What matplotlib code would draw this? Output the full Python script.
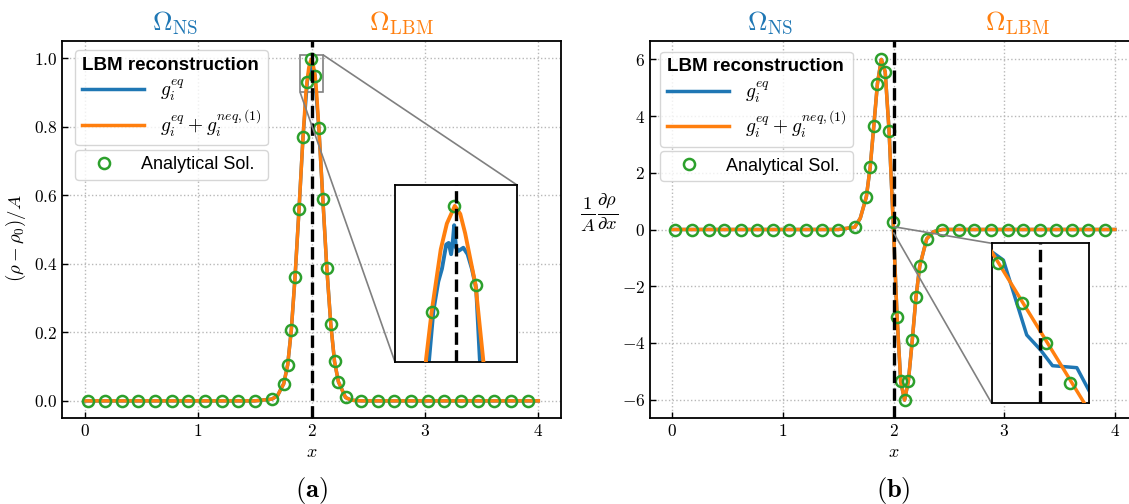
import matplotlib
matplotlib.use("Agg")
import matplotlib.pyplot as plt
from matplotlib.ticker import FuncFormatter
from mpl_toolkits.axes_grid1.inset_locator import mark_inset

plt.rcParams['mathtext.fontset'] = 'cm'
plt.rcParams['font.family'] = ['Liberation Sans', 'DejaVu Sans']

# ---- data ----
# analytical solution markers (same x grid for both panels)
ana_x = [0.03, 0.18, 0.33, 0.47, 0.62, 0.77, 0.91, 1.06, 1.21, 1.35, 1.50, 1.65,
         1.755, 1.79, 1.822, 1.855, 1.89, 1.925, 1.96, 1.997, 2.032, 2.065, 2.10,
         2.135, 2.17, 2.203, 2.237, 2.30, 2.44, 2.59, 2.73, 2.88, 3.03, 3.17,
         3.32, 3.47, 3.61, 3.76, 3.91]
ana_rho = [0, 0, 0, 0, 0, 0, 0, 0, 0, 0, 0, 0.005,
           0.05, 0.105, 0.207, 0.362, 0.559, 0.769, 0.931, 0.997, 0.948, 0.795, 0.589,
           0.387, 0.224, 0.115, 0.056, 0.01, 0, 0, 0, 0, 0, 0,
           0, 0, 0, 0, 0]
ana_drho = [0, 0, 0, 0, 0, 0, 0, 0, 0, 0, 0, 0.08,
            1.16, 2.22, 3.65, 5.15, 6.0, 5.56, 3.48, 0.26, -3.07, -5.36, -6.02,
            -5.33, -3.89, -2.39, -1.29, -0.33, 0, 0, 0, 0, 0, 0,
            0, 0, 0, 0, 0]

# (a) density, g_eq + g_neq reconstruction
rho_x_full = [0.0, 1.50, 1.65, 1.70, 1.755, 1.79, 1.822, 1.855, 1.89, 1.925, 1.951,
              1.96, 1.975, 1.985, 1.998, 2.007, 2.015, 2.032, 2.045, 2.065, 2.10,
              2.135, 2.17, 2.203, 2.237, 2.30, 2.35, 2.44, 4.0]
rho_full = [0, 0, 0.005, 0.015, 0.05, 0.105, 0.207, 0.362, 0.559, 0.769, 0.902,
            0.931, 0.970, 0.986, 0.997, 0.992, 0.980, 0.948, 0.90, 0.795, 0.589,
            0.387, 0.224, 0.115, 0.056, 0.01, 0.002, 0, 0]
# (a) density, g_eq only
rho_x_eq = [0.0, 1.50, 1.65, 1.70, 1.755, 1.79, 1.822, 1.855, 1.89, 1.925, 1.956,
            1.963, 1.971, 1.977, 1.984, 1.988, 1.992, 1.995, 1.997, 2.0, 2.004,
            2.012, 2.019, 2.026, 2.033, 2.039, 2.065, 2.10, 2.135, 2.17, 2.203,
            2.237, 2.30, 2.35, 2.44, 4.0]
rho_eq = [0, 0, 0.005, 0.015, 0.05, 0.105, 0.207, 0.362, 0.559, 0.769, 0.902,
          0.932, 0.950, 0.958, 0.973, 0.974, 0.967, 0.976, 0.985, 0.971, 0.969,
          0.971, 0.967, 0.958, 0.946, 0.902, 0.795, 0.589, 0.387, 0.224, 0.115,
          0.056, 0.01, 0.002, 0, 0]

# (b) gradient, both reconstructions coincide at this scale
drho_x = [0.0, 1.50, 1.65, 1.70, 1.755, 1.79, 1.822, 1.855, 1.89, 1.925, 1.96,
          1.997, 2.032, 2.065, 2.10, 2.135, 2.17, 2.203, 2.237, 2.30, 2.36, 2.44, 4.0]
drho = [0, 0, 0.08, 0.4, 1.16, 2.22, 3.65, 5.15, 6.0, 5.56, 3.48,
        0.26, -3.07, -5.36, -6.02, -5.33, -3.89, -2.39, -1.29, -0.33, -0.08, 0, 0]

# (b) zoomed window around x = 2
zoom_ana_x = [1.99912, 1.99962, 2.00012, 2.00061]
zoom_ana = [0.075, 0.025, -0.025, -0.074]
zoom_full_x = [1.9985, 2.0015]
zoom_full = [0.139, -0.159]
zoom_eq_x = [1.9985, 1.999, 1.99924, 1.99972, 2.0, 2.00025, 2.00075, 2.00099, 2.0015]
zoom_eq = [0.12, 0.0895, 0.079, -0.0146, -0.033, -0.053, -0.0555, -0.083, -0.14]

C_BLUE = '#1f77b4'
C_ORANGE = '#ff7f0e'
C_GREEN = '#2ca02c'

W, H = 1129, 504
fig = plt.figure(figsize=(W / 100, H / 100), dpi=100)


def px_axes(x0, y0, x1, y1):
    return fig.add_axes([x0 / W, 1 - y1 / H, (x1 - x0) / W, (y1 - y0) / H])


ax1 = px_axes(62, 41, 561, 418)
ax2 = px_axes(650, 41, 1137, 418)
ins1 = px_axes(395, 185, 517, 362)
ins2 = px_axes(991.7, 243.3, 1089, 403.3)

mk = dict(ls='none', marker='o', ms=8, mfc='none', mec=C_GREEN, mew=1.8, zorder=4)

# panel (a)
l_eq, = ax1.plot(rho_x_eq, rho_eq, color=C_BLUE, lw=2.5, zorder=2)
l_full, = ax1.plot(rho_x_full, rho_full, color=C_ORANGE, lw=2.5, zorder=3)
l_ana, = ax1.plot(ana_x, ana_rho, **mk)
ax1.axvline(2.0, color='k', ls='--', lw=2.4, zorder=5)
ax1.set_xlim(-0.2, 4.2)
ax1.set_ylim(-0.05, 1.05)
ax1.set_xticks([0, 1, 2, 3, 4])
ax1.set_yticks([0.0, 0.2, 0.4, 0.6, 0.8, 1.0])
ax1.yaxis.set_major_formatter(FuncFormatter(lambda v, p: '$%.1f$' % v))
ax1.set_ylabel(r'$(\rho-\rho_0)/A$', fontsize=13.5)
ax1.yaxis.set_label_coords(-0.068, 0.476)

# panel (b)
ax2.plot(drho_x, drho, color=C_BLUE, lw=2.5, zorder=2)
ax2.plot(drho_x, drho, color=C_ORANGE, lw=2.5, zorder=3)
ax2.plot(ana_x, ana_drho, **mk)
ax2.axvline(2.0, color='k', ls='--', lw=2.4, zorder=5)
ax2.set_xlim(-0.2, 4.2)
ax2.set_ylim(-6.65, 6.65)
ax2.set_xticks([0, 1, 2, 3, 4])
ax2.set_yticks([-6, -4, -2, 0, 2, 4, 6])
ax2.yaxis.set_major_formatter(FuncFormatter(lambda v, p: '$%d$' % v))

for ax in (ax1, ax2):
    ax.xaxis.set_major_formatter(FuncFormatter(lambda v, p: '$%d$' % v))
    ax.tick_params(direction='in', length=4, width=1, labelsize=12.5)
    ax.grid(True, ls=':', color='#b8b8b8', lw=1)
    ax.set_xlabel(r'$x$', fontsize=13)
    for s in ax.spines.values():
        s.set_linewidth(1.3)

# insets
ins1.plot(rho_x_eq, rho_eq, color=C_BLUE, lw=2.8, zorder=2)
ins1.plot(rho_x_full, rho_full, color=C_ORANGE, lw=2.8, zorder=3)
ins1.plot(ana_x, ana_rho, **mk)
ins1.axvline(2.0, color='k', ls='--', lw=2.4, zorder=5)
ins1.set_xlim(1.9, 2.1)
ins1.set_ylim(0.9, 1.01)

ins2.plot(zoom_eq_x, zoom_eq, color=C_BLUE, lw=2.5, zorder=2)
ins2.plot(zoom_full_x, zoom_full, color=C_ORANGE, lw=2.5, zorder=3)
ins2.plot(zoom_ana_x, zoom_ana, **mk)
ins2.axvline(2.0, color='k', ls='--', lw=2.4, zorder=5)
ins2.set_xlim(1.999, 2.001)
ins2.set_ylim(-0.1, 0.1)

for ax in (ins1, ins2):
    ax.set_xticks([])
    ax.set_yticks([])
    for s in ax.spines.values():
        s.set_linewidth(1.3)

mark_inset(ax1, ins1, loc1=1, loc2=3, fc='none', ec='0.5', lw=1.2)
mark_inset(ax2, ins2, loc1=2, loc2=3, fc='none', ec='0.5', lw=1.2)

# legends
labels = [r'$g_i^{eq}$', r'$g_i^{eq}+g_i^{neq,(1)}$']
for ax, x0, y0 in ((ax1, 0.026, 0.976), (ax2, 0.0205, 0.972)):
    leg1 = ax.legend([l_eq, l_full], labels, title='LBM reconstruction',
                     title_fontproperties={'weight': 'bold', 'size': 13.5},
                     loc='upper left', bbox_to_anchor=(x0, y0), borderaxespad=0,
                     fontsize=14, alignment='left', handlelength=3.2,
                     labelspacing=0.2, borderpad=0.35)
    ax.add_artist(leg1)
    fig.canvas.draw()
    bb = leg1.get_window_extent().transformed(ax.transAxes.inverted())
    ax.legend([l_ana], ['Analytical Sol.'], loc='upper left',
              bbox_to_anchor=(bb.x0, bb.y0 - 0.012, bb.width, 0), mode='expand',
              borderaxespad=0, fontsize=13, handlelength=2.5, borderpad=0.35)

# domain labels and panel tags
ty = 1 - 23 / H
fig.text(175 / W, ty, r'$\Omega_{\rm NS}$', color=C_BLUE, fontsize=19.5, ha='center', va='center')
fig.text(401 / W, ty, r'$\Omega_{\rm LBM}$', color=C_ORANGE, fontsize=19.5, ha='center', va='center')
fig.text(770 / W, ty, r'$\Omega_{\rm NS}$', color=C_BLUE, fontsize=19.5, ha='center', va='center')
fig.text(1017 / W, ty, r'$\Omega_{\rm LBM}$', color=C_ORANGE, fontsize=19.5, ha='center', va='center')
fig.text(599 / W, 1 - 213 / H, r'$\frac{1}{A}\frac{\partial\rho}{\partial x}$',
         fontsize=19, ha='center', va='center')
fig.text(311 / W, 1 - 490 / H, r'$\mathbf{(a)}$', fontsize=19, ha='center', va='center')
fig.text(893 / W, 1 - 490 / H, r'$\mathbf{(b)}$', fontsize=19, ha='center', va='center')

fig.savefig('out.png', dpi=100)
